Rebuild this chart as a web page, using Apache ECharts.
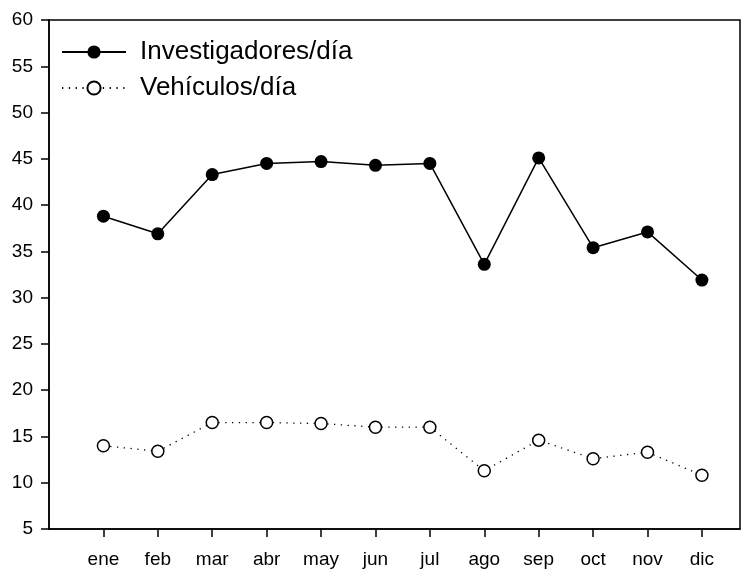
<!DOCTYPE html>
<html>
<head>
<meta charset="utf-8">
<script src="https://cdn.jsdelivr.net/npm/echarts@6/dist/echarts.min.js"></script>
<style>html,body{margin:0;padding:0;background:#fff}#c{width:747px;height:569px}</style>
</head>
<body>
<div id="c"></div>
<script>
const months = ['ene','feb','mar','abr','may','jun','jul','ago','sep','oct','nov','dic'];
const investigadores = [38.8, 36.9, 43.3, 44.5, 44.7, 44.3, 44.5, 33.6, 45.1, 35.4, 37.1, 31.9];
const vehiculos = [14.0, 13.4, 16.5, 16.5, 16.4, 16.0, 16.0, 11.3, 14.6, 12.6, 13.3, 10.8];
const yTicks = [5,10,15,20,25,30,35,40,45,50,55,60];

const font = "'Liberation Sans', Arial, sans-serif";
const monthPos = months.map((m, i) => i + 1);
const chart = echarts.init(document.getElementById('c'), null, {renderer: 'canvas'});
chart.setOption({
  animation: false,
  backgroundColor: '#fff',
  grid: {left: 49, right: 7, top: 20, bottom: 40, show: true, borderColor: '#000', borderWidth: 1.5, backgroundColor: 'transparent'},
  legend: {
    left: 61, top: 39, orient: 'vertical', padding: 0,
    itemWidth: 64, itemHeight: 16.5, itemGap: 10,
    textStyle: {fontFamily: font, fontSize: 26, color: '#000', padding: [0, 0, 0, 9]},
    data: ['Investigadores/día', 'Vehículos/día']
  },
  xAxis: {
    type: 'value', min: 0, max: 12.7,
    splitLine: {show: false},
    axisLine: {lineStyle: {color: '#000', width: 1.5}},
    axisTick: {customValues: monthPos, length: 8, lineStyle: {color: '#000', width: 1.5}},
    axisLabel: {customValues: monthPos, margin: 21, fontFamily: font, fontSize: 19, color: '#000',
      formatter: v => months[Math.round(v) - 1] || ''}
  },
  yAxis: {
    type: 'value', min: yTicks[0], max: yTicks[yTicks.length - 1], interval: 5,
    splitLine: {show: false},
    axisLine: {show: true, lineStyle: {color: '#000', width: 1.5}},
    axisTick: {show: true, length: 8, lineStyle: {color: '#000', width: 1.5}},
    axisLabel: {margin: 16, fontFamily: font, fontSize: 19, color: '#000'}
  },
  series: [
    {
      name: 'Investigadores/día', type: 'line',
      data: investigadores.map((v, i) => [monthPos[i], v]),
      symbol: 'circle', symbolSize: 13,
      itemStyle: {color: '#000', borderWidth: 0},
      lineStyle: {color: '#000', width: 1.5}
    },
    {
      name: 'Vehículos/día', type: 'line',
      data: vehiculos.map((v, i) => [monthPos[i], v]),
      symbol: 'circle', symbolSize: 12,
      itemStyle: {color: '#fff', borderColor: '#000', borderWidth: 1.5},
      lineStyle: {color: '#000', width: 1.3, type: [1.3, 5.5]}
    }
  ]
});
</script>
</body>
</html>
